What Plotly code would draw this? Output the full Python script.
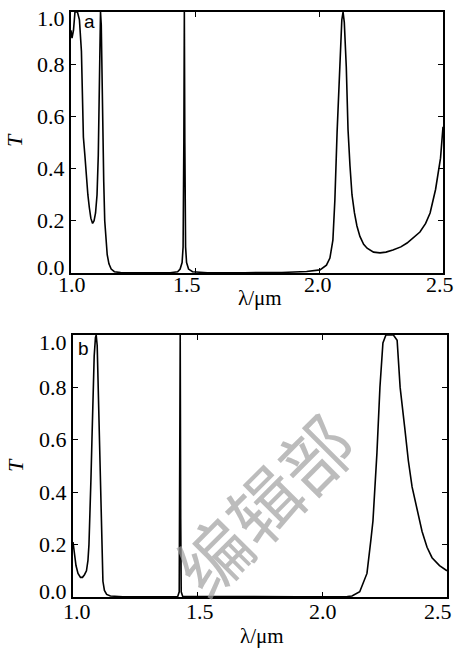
import plotly.graph_objects as go

# ---- data ----
lam_a = [1.000, 1.004, 1.010, 1.016, 1.026, 1.034, 1.042, 1.047, 1.050, 1.056, 1.062, 1.068,
         1.074, 1.080, 1.087, 1.093, 1.099, 1.105, 1.110, 1.114, 1.117, 1.119, 1.122, 1.125,
         1.128, 1.132, 1.136, 1.141, 1.146, 1.153, 1.162, 1.175, 1.200, 1.300, 1.400, 1.430,
         1.440, 1.448, 1.452, 1.455, 1.457, 1.459, 1.462, 1.466, 1.474, 1.490, 1.550, 1.700,
         1.850, 1.950, 2.004, 2.030, 2.044, 2.056, 2.064, 2.073, 2.085, 2.092, 2.097, 2.102,
         2.110, 2.117, 2.125, 2.133, 2.143, 2.153, 2.165, 2.180, 2.194, 2.220, 2.246, 2.270,
         2.298, 2.330, 2.355, 2.380, 2.407, 2.430, 2.448, 2.470, 2.490, 2.500]
T_a = [0.93, 0.90, 0.93, 1.00, 1.00, 0.97, 0.85, 0.70, 0.52, 0.45, 0.36, 0.30,
       0.25, 0.21, 0.19, 0.20, 0.23, 0.30, 0.45, 0.70, 0.95, 1.00, 0.95, 0.72,
       0.55, 0.35, 0.20, 0.12, 0.07, 0.035, 0.015, 0.005, 0.0015, 0.0005, 0.001, 0.005,
       0.015, 0.04, 0.10, 0.50, 1.00, 0.50, 0.10, 0.04, 0.015, 0.005, 0.001, 0.001,
       0.002, 0.006, 0.012, 0.03, 0.057, 0.126, 0.28, 0.54, 0.85, 0.97, 1.00, 0.96,
       0.79, 0.55, 0.41, 0.30, 0.23, 0.18, 0.14, 0.11, 0.095, 0.08, 0.077, 0.08,
       0.088, 0.10, 0.115, 0.135, 0.157, 0.19, 0.23, 0.32, 0.44, 0.56]

lam_b = [1.000, 1.005, 1.012, 1.020, 1.030, 1.038, 1.046, 1.054, 1.060, 1.064, 1.068, 1.072,
         1.076, 1.080, 1.085, 1.090, 1.093, 1.097, 1.100, 1.104, 1.108, 1.112, 1.116, 1.120,
         1.126, 1.135, 1.150, 1.200, 1.300, 1.420, 1.426, 1.428, 1.430, 1.432, 1.434, 1.440,
         1.600, 1.900, 2.100, 2.119, 2.150, 2.179, 2.195, 2.203, 2.219, 2.231, 2.243, 2.255,
         2.270, 2.285, 2.300, 2.312, 2.330, 2.345, 2.360, 2.380, 2.400, 2.420, 2.440, 2.470,
         2.500]
T_b = [0.21, 0.17, 0.12, 0.09, 0.075, 0.075, 0.085, 0.10, 0.14, 0.20, 0.30, 0.45,
       0.60, 0.75, 0.92, 0.99, 1.00, 0.96, 0.85, 0.68, 0.55, 0.35, 0.18, 0.06,
       0.025, 0.01, 0.004, 0.001, 0.001, 0.002, 0.02, 0.30, 1.00, 0.30, 0.02, 0.002,
       0.001, 0.001, 0.002, 0.004, 0.02, 0.09, 0.22, 0.29, 0.55, 0.80, 0.97, 1.00,
       1.00, 1.00, 0.98, 0.80, 0.65, 0.52, 0.42, 0.33, 0.25, 0.19, 0.15, 0.12,
       0.10]

x_ticks = [1.0, 1.5, 2.0, 2.5]
y_ticks = [0.0, 0.2, 0.4, 0.6, 0.8, 1.0]
x_title = "λ/μm"
y_title = "T"
panel_labels = ["a", "b"]

W, H = 458, 648
SERIF = "Liberation Serif"
SANS = "Liberation Sans"

# small label nudges seen in the (scanned) reference, in pixels
X_LABEL_SHIFT = {"x": [1, -8, -1, -3], "x2": [4, 2, 1, -9]}
Y_END_SHIFT = {0.0: 6, 1.0: -7}


def px(x):
    return x / W


def py(y):
    return 1 - y / H


fig = go.Figure()
fig.add_trace(go.Scatter(x=lam_a, y=T_a, mode="lines", line=dict(color="black", width=1.6),
                         xaxis="x", yaxis="y", showlegend=False))
fig.add_trace(go.Scatter(x=lam_b, y=T_b, mode="lines", line=dict(color="black", width=1.6),
                         xaxis="x2", yaxis="y2", showlegend=False))

ax_common = dict(showline=True, linecolor="black", linewidth=1.5, mirror="ticks",
                 ticks="inside", ticklen=5, tickcolor="black", tickwidth=1.2,
                 showgrid=False, zeroline=False, showticklabels=False)

fig.update_layout(
    width=W, height=H,
    margin=dict(l=0, r=0, t=0, b=0),
    paper_bgcolor="white", plot_bgcolor="white",
    font=dict(family=SERIF, color="black"),
    xaxis=dict(domain=[px(71), px(443)], range=[1.0, 2.5], tickvals=x_ticks, anchor="y",
               **ax_common),
    yaxis=dict(domain=[py(273), py(12)], range=[0, 1.0], tickvals=y_ticks, anchor="x",
               **ax_common),
    xaxis2=dict(domain=[px(73), px(447)], range=[1.0, 2.5], tickvals=x_ticks, anchor="y2",
                **ax_common),
    yaxis2=dict(domain=[py(597), py(335)], range=[0, 1.0], tickvals=y_ticks, anchor="x2",
                **ax_common),
)

tickfont = dict(family=SERIF, size=22, color="black")
ann = []
# tick labels as text placed through the axes
for xa, ya, ysh in [("x", "y", -11), ("x2", "y2", -14)]:
    for v, xs in zip(x_ticks, X_LABEL_SHIFT[xa]):
        ann.append(dict(x=v, y=0, xref=xa, yref=f"{ya} domain", text=f"{v:.1f}",
                        showarrow=False, xanchor="center", yanchor="middle", yshift=ysh,
                        xshift=xs, font=tickfont))
    for v in y_ticks:
        ann.append(dict(x=0, y=v, xref=f"{xa} domain", yref=ya, text=f"{v:.1f}",
                        showarrow=False, xanchor="right", yanchor="middle", xshift=-4,
                        yshift=Y_END_SHIFT.get(v, 0), font=tickfont))
# axis titles
for (tx, ty) in [(15, 140), (15, 465)]:
    ann.append(dict(x=px(tx), y=py(ty), xref="paper", yref="paper", text=f"<i>{y_title}</i>",
                    showarrow=False, textangle=-90, xanchor="center", yanchor="middle",
                    font=dict(family=SERIF, size=22, color="black")))
for (tx, ty) in [(260, 298), (262, 636)]:
    ann.append(dict(x=px(tx), y=py(ty), xref="paper", yref="paper", text=x_title,
                    showarrow=False, xanchor="center", yanchor="middle",
                    font=dict(family=SERIF, size=21, color="black")))
# panel labels
for lab, (tx, ty) in zip(panel_labels, [(89, 21), (83, 349)]):
    ann.append(dict(x=px(tx), y=py(ty), xref="paper", yref="paper", text=lab,
                    showarrow=False, xanchor="center", yanchor="middle",
                    font=dict(family=SANS, size=19, color="black")))
# watermark
ann.append(dict(x=px(262), y=py(503), xref="paper", yref="paper", text="编辑部",
                showarrow=False, textangle=-45, xanchor="center", yanchor="middle",
                font=dict(family="Noto Sans CJK SC", size=72, color="rgba(160,160,160,0.7)")))
fig.update_layout(annotations=ann)

fig.write_html("out.html")
